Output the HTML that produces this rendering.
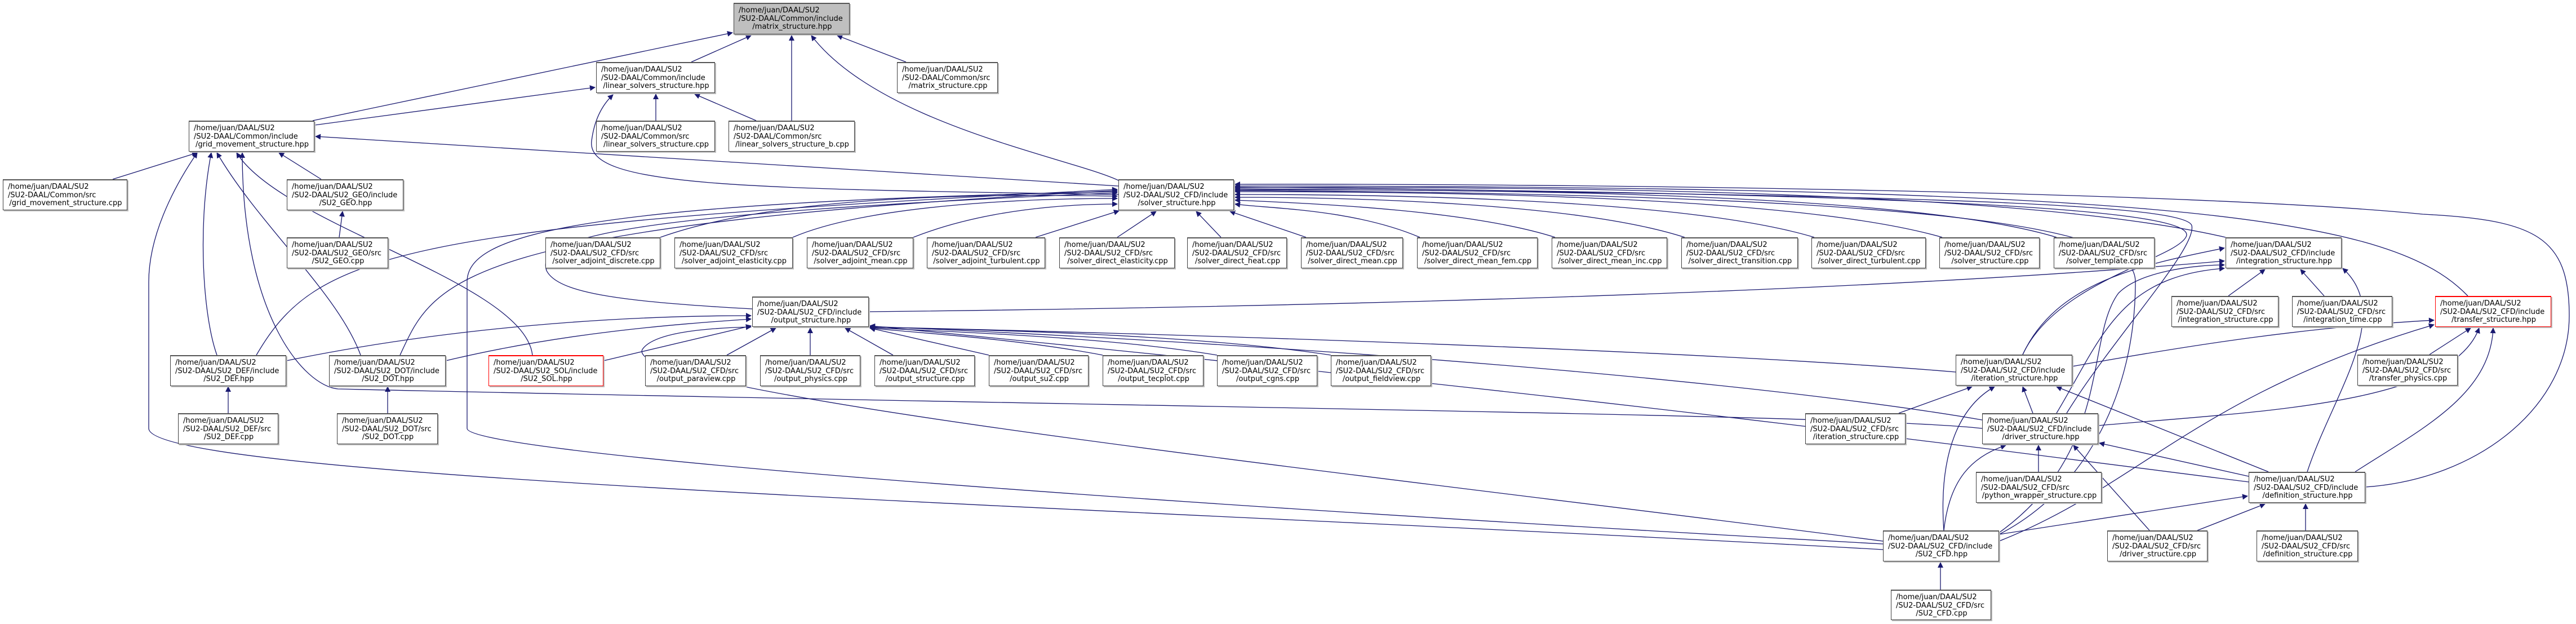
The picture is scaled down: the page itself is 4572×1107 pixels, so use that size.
<!DOCTYPE html>
<html><head><meta charset="utf-8">
<style>
html,body{margin:0;padding:0;background:#fff;}
#c{position:relative;width:4572px;height:1107px;overflow:hidden;background:#fff;}
svg{position:absolute;left:0;top:0;}
.n{position:absolute;box-sizing:border-box;background:#fff;border:1px solid #404040;border-top:2px solid #555;box-shadow:2px 2px 0 #bbb;font-family:"DejaVu Sans","Liberation Sans",sans-serif;font-size:13px;line-height:14.5px;color:#000;padding:5px 6px 0 8px;white-space:nowrap;}
.n span{display:block;}
.n span.c{text-align:center;}
.g{background:#bfbfbf;}
.r{border:1px solid #f00;border-top:2px solid #f00;}
</style></head><body><div id="c">
<svg width="4572" height="1107" viewBox="0 0 4572 1107">
<defs><marker id="a" viewBox="0 0 10 10" refX="9" refY="5" markerWidth="12" markerHeight="10" markerUnits="userSpaceOnUse" orient="auto"><path d="M0,0 L10,5 L0,10 z" fill="#191970"/></marker></defs>
<g fill="none" stroke="#191970" stroke-width="1.3" marker-end="url(#a)">
<path d="M555,214 L1300,58"/>
<path d="M1227,110 L1333,63"/>
<path d="M1405,214 L1405,63"/>
<path d="M1985,320 C1900,280 1560,220 1440,63"/>
<path d="M1608,110 L1486,63"/>
<path d="M558,222 L1056,155"/>
<path d="M1164,214 L1164,167"/>
<path d="M1342,214 L1233,167"/>
<path d="M1985,345 C1300,335 1040,330 1050,250 C1055,210 1070,185 1088,168"/>
<path d="M1985,330 L560,242"/>
<path d="M200,318 L350,271"/>
<path d="M570,318 L495,271"/>
<path d="M602,421 L608,375"/>
<path d="M1172,421 C1400,340 1800,345 1983,348"/>
<path d="M1407,421 C1550,360 1850,352 1983,352"/>
<path d="M1621,421 C1750,370 1900,362 1983,362"/>
<path d="M1838,421 L1986,374"/>
<path d="M1983,421 L2052,375"/>
<path d="M2167,421 L2123,375"/>
<path d="M2318,421 L2183,375"/>
<path d="M2520,421 C2400,370 2250,370 2192,362"/>
<path d="M2760,421 C2600,370 2300,360 2192,355"/>
<path d="M2990,421 C2800,360 2400,350 2192,350"/>
<path d="M3220,421 C3000,355 2500,345 2192,345"/>
<path d="M3447,421 C3200,350 2600,340 2192,340"/>
<path d="M3650,421 C3400,345 2700,335 2192,337"/>
<path d="M3950,421 C3600,340 2800,330 2192,333"/>
<path d="M4380,525 C4250,390 3900,330 2192,330"/>
<path d="M4198,864 C4400,850 4560,720 4560,560 C4560,420 4500,390 4300,380 C3900,340 2800,325 2192,327"/>
<path d="M3590,629 C3650,500 3860,460 3880,420 C3900,380 3600,345 2192,332"/>
<path d="M3668,733 C3750,600 3900,440 3890,400 C3880,370 3600,345 2192,335"/>
<path d="M3548,948 C3700,870 3790,700 3790,500 C3790,420 3600,345 2192,338"/>
<path d="M1335,548 C1100,535 990,520 970,480 C950,420 1100,380 1983,342"/>
<path d="M1542,553 C2300,545 3300,520 3948,463"/>
<path d="M508,640 C800,580 1100,560 1333,560"/>
<path d="M791,640 C1000,590 1200,575 1333,566"/>
<path d="M1071,640 L1333,578"/>
<path d="M1290,630 L1377,582"/>
<path d="M1438,630 L1438,582"/>
<path d="M1585,630 L1500,582"/>
<path d="M1755,630 L1544,582"/>
<path d="M1957,630 C1800,600 1620,590 1544,582"/>
<path d="M2160,630 C1950,595 1650,588 1544,581"/>
<path d="M2362,630 C2100,590 1700,585 1544,580"/>
<path d="M3471,660 C3000,620 2000,590 1544,580"/>
<path d="M3518,745 C3200,690 2500,620 1544,579"/>
<path d="M3991,855 C3400,780 2800,700 1544,578"/>
<path d="M3342,960 C2500,850 1100,700 1140,620 C1160,590 1250,582 1333,580"/>
<path d="M385,630 C360,560 350,400 375,271"/>
<path d="M455,630 C560,450 700,400 1983,336"/>
<path d="M640,630 C600,520 460,400 385,271"/>
<path d="M710,630 C770,500 800,400 1983,338"/>
<path d="M945,630 C930,500 500,400 420,271"/>
<path d="M3342,975 C2000,900 264,850 264,760 L264,500 C264,400 330,300 350,271"/>
<path d="M3342,965 C1800,880 829,800 829,760 L829,500 C829,420 1000,360 1983,340"/>
<path d="M3518,760 C3300,735 2000,722 600,690 C540,685 430,560 430,271"/>
<path d="M3955,525 L4020,478"/>
<path d="M4125,525 L4083,478"/>
<path d="M3590,629 C3650,500 3800,470 3948,440"/>
<path d="M3650,733 C3730,600 3760,490 3948,476"/>
<path d="M3548,945 C3750,800 3700,600 3760,520 C3800,480 3900,470 3948,470"/>
<path d="M4095,837 C4140,700 4250,560 4158,476"/>
<path d="M3678,650 C3900,610 4100,580 4320,568"/>
<path d="M4312,629 L4385,582"/>
<path d="M3724,755 C4000,730 4350,720 4400,582"/>
<path d="M4180,837 C4300,760 4420,700 4425,582"/>
<path d="M3548,960 C3800,860 3900,700 4320,576"/>
<path d="M3370,733 L3500,686"/>
<path d="M3608,733 L3590,686"/>
<path d="M4026,837 L3650,686"/>
<path d="M3450,941 C3440,800 3480,720 3540,686"/>
<path d="M3618,837 L3618,790"/>
<path d="M3991,845 L3726,786"/>
<path d="M3450,941 C3460,850 3500,810 3560,790"/>
<path d="M3815,941 L3680,790"/>
<path d="M3548,948 L3989,880"/>
<path d="M3900,941 L4020,894"/>
<path d="M4092,941 L4092,894"/>
<path d="M3444,1046 L3444,998"/>
<path d="M405,733 L405,686"/>
<path d="M688,733 L688,686"/>
</g>
</svg>
<div class="n g" style="left:1302px;top:5px;width:206px;height:56px"><span>/home/juan/DAAL/SU2</span><span>/SU2-DAAL/Common/include</span><span class="c">/matrix_structure.hpp</span></div>
<div class="n" style="left:1058px;top:110px;width:211px;height:55px"><span>/home/juan/DAAL/SU2</span><span>/SU2-DAAL/Common/include</span><span class="c">/linear_solvers_structure.hpp</span></div>
<div class="n" style="left:1592px;top:110px;width:179px;height:55px"><span>/home/juan/DAAL/SU2</span><span>/SU2-DAAL/Common/src</span><span class="c">/matrix_structure.cpp</span></div>
<div class="n" style="left:335px;top:214px;width:223px;height:55px"><span>/home/juan/DAAL/SU2</span><span>/SU2-DAAL/Common/include</span><span class="c">/grid_movement_structure.hpp</span></div>
<div class="n" style="left:1058px;top:214px;width:211px;height:55px"><span>/home/juan/DAAL/SU2</span><span>/SU2-DAAL/Common/src</span><span class="c">/linear_solvers_structure.cpp</span></div>
<div class="n" style="left:1293px;top:214px;width:224px;height:55px"><span>/home/juan/DAAL/SU2</span><span>/SU2-DAAL/Common/src</span><span class="c">/linear_solvers_structure_b.cpp</span></div>
<div class="n" style="left:5px;top:318px;width:221px;height:55px"><span>/home/juan/DAAL/SU2</span><span>/SU2-DAAL/Common/src</span><span class="c">/grid_movement_structure.cpp</span></div>
<div class="n" style="left:509px;top:318px;width:207px;height:55px"><span>/home/juan/DAAL/SU2</span><span>/SU2-DAAL/SU2_GEO/include</span><span class="c">/SU2_GEO.hpp</span></div>
<div class="n" style="left:1985px;top:318px;width:205px;height:55px"><span>/home/juan/DAAL/SU2</span><span>/SU2-DAAL/SU2_CFD/include</span><span class="c">/solver_structure.hpp</span></div>
<div class="n" style="left:509px;top:421px;width:180px;height:55px"><span>/home/juan/DAAL/SU2</span><span>/SU2-DAAL/SU2_GEO/src</span><span class="c">/SU2_GEO.cpp</span></div>
<div class="n" style="left:968px;top:421px;width:204px;height:55px"><span>/home/juan/DAAL/SU2</span><span>/SU2-DAAL/SU2_CFD/src</span><span class="c">/solver_adjoint_discrete.cpp</span></div>
<div class="n" style="left:1197px;top:421px;width:210px;height:55px"><span>/home/juan/DAAL/SU2</span><span>/SU2-DAAL/SU2_CFD/src</span><span class="c">/solver_adjoint_elasticity.cpp</span></div>
<div class="n" style="left:1432px;top:421px;width:189px;height:55px"><span>/home/juan/DAAL/SU2</span><span>/SU2-DAAL/SU2_CFD/src</span><span class="c">/solver_adjoint_mean.cpp</span></div>
<div class="n" style="left:1645px;top:421px;width:210px;height:55px"><span>/home/juan/DAAL/SU2</span><span>/SU2-DAAL/SU2_CFD/src</span><span class="c">/solver_adjoint_turbulent.cpp</span></div>
<div class="n" style="left:1880px;top:421px;width:205px;height:55px"><span>/home/juan/DAAL/SU2</span><span>/SU2-DAAL/SU2_CFD/src</span><span class="c">/solver_direct_elasticity.cpp</span></div>
<div class="n" style="left:2107px;top:421px;width:177px;height:55px"><span>/home/juan/DAAL/SU2</span><span>/SU2-DAAL/SU2_CFD/src</span><span class="c">/solver_direct_heat.cpp</span></div>
<div class="n" style="left:2309px;top:421px;width:181px;height:55px"><span>/home/juan/DAAL/SU2</span><span>/SU2-DAAL/SU2_CFD/src</span><span class="c">/solver_direct_mean.cpp</span></div>
<div class="n" style="left:2515px;top:421px;width:214px;height:55px"><span>/home/juan/DAAL/SU2</span><span>/SU2-DAAL/SU2_CFD/src</span><span class="c">/solver_direct_mean_fem.cpp</span></div>
<div class="n" style="left:2754px;top:421px;width:205px;height:55px"><span>/home/juan/DAAL/SU2</span><span>/SU2-DAAL/SU2_CFD/src</span><span class="c">/solver_direct_mean_inc.cpp</span></div>
<div class="n" style="left:2984px;top:421px;width:207px;height:55px"><span>/home/juan/DAAL/SU2</span><span>/SU2-DAAL/SU2_CFD/src</span><span class="c">/solver_direct_transition.cpp</span></div>
<div class="n" style="left:3215px;top:421px;width:203px;height:55px"><span>/home/juan/DAAL/SU2</span><span>/SU2-DAAL/SU2_CFD/src</span><span class="c">/solver_direct_turbulent.cpp</span></div>
<div class="n" style="left:3442px;top:421px;width:178px;height:55px"><span>/home/juan/DAAL/SU2</span><span>/SU2-DAAL/SU2_CFD/src</span><span class="c">/solver_structure.cpp</span></div>
<div class="n" style="left:3645px;top:421px;width:179px;height:55px"><span>/home/juan/DAAL/SU2</span><span>/SU2-DAAL/SU2_CFD/src</span><span class="c">/solver_template.cpp</span></div>
<div class="n" style="left:3950px;top:421px;width:206px;height:55px"><span>/home/juan/DAAL/SU2</span><span>/SU2-DAAL/SU2_CFD/include</span><span class="c">/integration_structure.hpp</span></div>
<div class="n" style="left:1335px;top:526px;width:207px;height:54px"><span>/home/juan/DAAL/SU2</span><span>/SU2-DAAL/SU2_CFD/include</span><span class="c">/output_structure.hpp</span></div>
<div class="n" style="left:3854px;top:525px;width:190px;height:55px"><span>/home/juan/DAAL/SU2</span><span>/SU2-DAAL/SU2_CFD/src</span><span class="c">/integration_structure.cpp</span></div>
<div class="n" style="left:4068px;top:525px;width:178px;height:55px"><span>/home/juan/DAAL/SU2</span><span>/SU2-DAAL/SU2_CFD/src</span><span class="c">/integration_time.cpp</span></div>
<div class="n r" style="left:4322px;top:525px;width:206px;height:55px"><span>/home/juan/DAAL/SU2</span><span>/SU2-DAAL/SU2_CFD/include</span><span class="c">/transfer_structure.hpp</span></div>
<div class="n" style="left:302px;top:630px;width:206px;height:55px"><span>/home/juan/DAAL/SU2</span><span>/SU2-DAAL/SU2_DEF/include</span><span class="c">/SU2_DEF.hpp</span></div>
<div class="n" style="left:584px;top:630px;width:207px;height:55px"><span>/home/juan/DAAL/SU2</span><span>/SU2-DAAL/SU2_DOT/include</span><span class="c">/SU2_DOT.hpp</span></div>
<div class="n r" style="left:867px;top:630px;width:204px;height:55px"><span>/home/juan/DAAL/SU2</span><span>/SU2-DAAL/SU2_SOL/include</span><span class="c">/SU2_SOL.hpp</span></div>
<div class="n" style="left:1145px;top:630px;width:179px;height:55px"><span>/home/juan/DAAL/SU2</span><span>/SU2-DAAL/SU2_CFD/src</span><span class="c">/output_paraview.cpp</span></div>
<div class="n" style="left:1349px;top:630px;width:178px;height:55px"><span>/home/juan/DAAL/SU2</span><span>/SU2-DAAL/SU2_CFD/src</span><span class="c">/output_physics.cpp</span></div>
<div class="n" style="left:1552px;top:630px;width:178px;height:55px"><span>/home/juan/DAAL/SU2</span><span>/SU2-DAAL/SU2_CFD/src</span><span class="c">/output_structure.cpp</span></div>
<div class="n" style="left:1755px;top:630px;width:177px;height:55px"><span>/home/juan/DAAL/SU2</span><span>/SU2-DAAL/SU2_CFD/src</span><span class="c">/output_su2.cpp</span></div>
<div class="n" style="left:1957px;top:630px;width:179px;height:55px"><span>/home/juan/DAAL/SU2</span><span>/SU2-DAAL/SU2_CFD/src</span><span class="c">/output_tecplot.cpp</span></div>
<div class="n" style="left:2160px;top:630px;width:178px;height:55px"><span>/home/juan/DAAL/SU2</span><span>/SU2-DAAL/SU2_CFD/src</span><span class="c">/output_cgns.cpp</span></div>
<div class="n" style="left:2362px;top:630px;width:178px;height:55px"><span>/home/juan/DAAL/SU2</span><span>/SU2-DAAL/SU2_CFD/src</span><span class="c">/output_fieldview.cpp</span></div>
<div class="n" style="left:3471px;top:629px;width:207px;height:55px"><span>/home/juan/DAAL/SU2</span><span>/SU2-DAAL/SU2_CFD/include</span><span class="c">/iteration_structure.hpp</span></div>
<div class="n" style="left:4184px;top:629px;width:178px;height:55px"><span>/home/juan/DAAL/SU2</span><span>/SU2-DAAL/SU2_CFD/src</span><span class="c">/transfer_physics.cpp</span></div>
<div class="n" style="left:316px;top:733px;width:178px;height:55px"><span>/home/juan/DAAL/SU2</span><span>/SU2-DAAL/SU2_DEF/src</span><span class="c">/SU2_DEF.cpp</span></div>
<div class="n" style="left:598px;top:733px;width:179px;height:55px"><span>/home/juan/DAAL/SU2</span><span>/SU2-DAAL/SU2_DOT/src</span><span class="c">/SU2_DOT.cpp</span></div>
<div class="n" style="left:3204px;top:733px;width:178px;height:55px"><span>/home/juan/DAAL/SU2</span><span>/SU2-DAAL/SU2_CFD/src</span><span class="c">/iteration_structure.cpp</span></div>
<div class="n" style="left:3518px;top:733px;width:206px;height:55px"><span>/home/juan/DAAL/SU2</span><span>/SU2-DAAL/SU2_CFD/include</span><span class="c">/driver_structure.hpp</span></div>
<div class="n" style="left:3507px;top:837px;width:223px;height:55px"><span>/home/juan/DAAL/SU2</span><span>/SU2-DAAL/SU2_CFD/src</span><span class="c">/python_wrapper_structure.cpp</span></div>
<div class="n" style="left:3991px;top:837px;width:207px;height:55px"><span>/home/juan/DAAL/SU2</span><span>/SU2-DAAL/SU2_CFD/include</span><span class="c">/definition_structure.hpp</span></div>
<div class="n" style="left:3342px;top:941px;width:206px;height:55px"><span>/home/juan/DAAL/SU2</span><span>/SU2-DAAL/SU2_CFD/include</span><span class="c">/SU2_CFD.hpp</span></div>
<div class="n" style="left:3740px;top:941px;width:178px;height:55px"><span>/home/juan/DAAL/SU2</span><span>/SU2-DAAL/SU2_CFD/src</span><span class="c">/driver_structure.cpp</span></div>
<div class="n" style="left:4005px;top:941px;width:180px;height:55px"><span>/home/juan/DAAL/SU2</span><span>/SU2-DAAL/SU2_CFD/src</span><span class="c">/definition_structure.cpp</span></div>
<div class="n" style="left:3356px;top:1046px;width:178px;height:54px"><span>/home/juan/DAAL/SU2</span><span>/SU2-DAAL/SU2_CFD/src</span><span class="c">/SU2_CFD.cpp</span></div>
</div></body></html>
